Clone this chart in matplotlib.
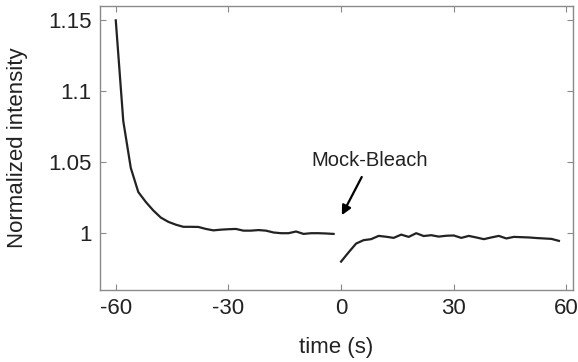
#!/usr/bin/env python3
"""
Normalized intensity before and after a mock bleach (2 s sampling).
"""
import matplotlib
matplotlib.use("Agg")
import matplotlib.pyplot as plt

# ─── Data ────────────────────────────────────────────────────────────────
T_PRE = [-60, -58, -56, -54, -52, -50, -48, -46, -44, -42,
         -40, -38, -36, -34, -32, -30, -28, -26, -24, -22,
         -20, -18, -16, -14, -12, -10, -8, -6, -4, -2]
I_PRE = [1.150, 1.079, 1.046, 1.029, 1.022, 1.016, 1.011, 1.008, 1.006, 1.0045,
         1.0045, 1.0044, 1.0030, 1.0020, 1.0025, 1.0028, 1.0030, 1.0018, 1.0018, 1.0022,
         1.0018, 1.0005, 1.0000, 1.0000, 1.0012, 0.9995, 1.0000, 1.0000, 0.9998, 0.9995]

T_POST = [0, 2, 4, 6, 8, 10, 12, 14, 16, 18,
          20, 22, 24, 26, 28, 30, 32, 34, 36, 38,
          40, 42, 44, 46, 48, 50, 52, 54, 56, 58]
I_POST = [0.9800, 0.9865, 0.9927, 0.9951, 0.9958, 0.9981, 0.9975, 0.9967, 0.9990, 0.9974,
          1.0000, 0.9980, 0.9986, 0.9976, 0.9982, 0.9984, 0.9967, 0.9981, 0.9970, 0.9958,
          0.9970, 0.9981, 0.9963, 0.9974, 0.9972, 0.9970, 0.9966, 0.9963, 0.9960, 0.9946]

X_TICKS = [-60, -30, 0, 30, 60]
Y_TICKS = [1.0, 1.05, 1.1, 1.15]
Y_TICKLABELS = ["1", "1.05", "1.1", "1.15"]

FRAME = "#8a8a8a"
LINE = "#222222"
TEXT = "#222222"


def main() -> None:
    plt.rcParams["font.family"] = ["Liberation Sans", "DejaVu Sans"]
    plt.rcParams["axes.unicode_minus"] = False
    fig = plt.figure(figsize=(5.78, 3.62), dpi=100)
    ax = fig.add_axes([0.173, 0.199, 0.818, 0.784])

    ax.plot(T_PRE, I_PRE, color=LINE, lw=1.6)
    ax.plot(T_POST, I_POST, color=LINE, lw=1.6)

    ax.set_xlim(-64.2, 61.7)
    ax.set_ylim(0.96, 1.16)
    ax.set_xticks(X_TICKS)
    ax.set_yticks(Y_TICKS)
    ax.set_yticklabels(Y_TICKLABELS)

    for s in ax.spines.values():
        s.set_color(FRAME)
        s.set_linewidth(1.0)
    ax.tick_params(direction="in", top=True, right=True, length=4,
                   color=FRAME, labelsize=16, labelcolor=TEXT, pad=6)

    ax.set_xlabel("time (s)", fontsize=16, color=TEXT, va="center")
    ax.set_ylabel("Normalized intensity", fontsize=16, color=TEXT, va="center")
    ax.xaxis.set_label_coords(0.5, -0.204)
    ax.yaxis.set_label_coords(-0.174, 0.5)

    ax.text(7.7, 1.0514, "Mock-Bleach", ha="center", va="center",
            fontsize=14.5, color=TEXT)
    ax.annotate("", xy=(0.2, 1.0127), xytext=(5.5, 1.0396),
                arrowprops=dict(arrowstyle="-|>", color="black", lw=1.6,
                                mutation_scale=14, shrinkA=0, shrinkB=0))

    fig.savefig("out.png", dpi=100)


if __name__ == "__main__":
    main()
